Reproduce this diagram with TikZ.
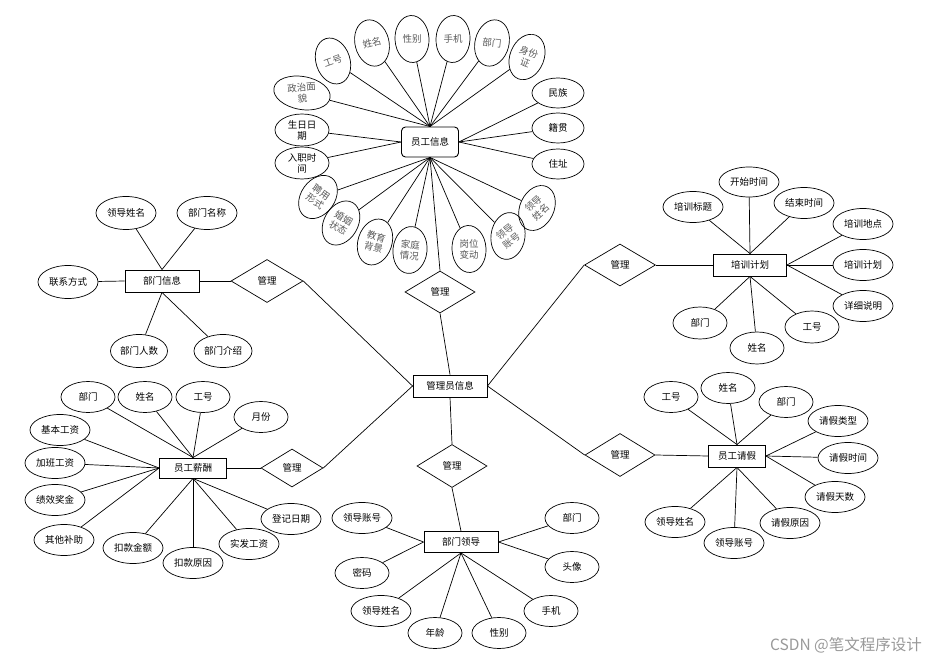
\documentclass[tikz,border=0pt]{standalone}
\usepackage{fontspec}
\newfontfamily\cjk{Noto Sans CJK SC}
\usetikzlibrary{shapes.geometric}
\newcommand\rattr[5]{%
  \node[vattr, rotate=#3] (#1) at (#2) {};
  \node[rtext, rotate=#4] (#1t) at (#1.center) {#5};}
\begin{document}
\begin{tikzpicture}[x=1pt,y=-1pt,
  every node/.style={font=\cjk\fontsize{9.5}{11}\selectfont, inner sep=0pt, align=center},
  ent/.style={draw, rectangle, minimum width=74, minimum height=22, line width=0.9pt},
  attr/.style={draw, ellipse, minimum width=54, minimum height=31, line width=0.7pt},
  attrw/.style={attr, minimum width=60},
  vattr/.style={draw, ellipse, minimum width=34, minimum height=47, line width=0.7pt},
  rtext/.style={text=black!65},
  rel/.style={draw, diamond, minimum width=70, minimum height=42, line width=0.7pt},
  conn/.style={line width=0.7pt}
]
\path[use as bounding box, fill=white] (0,0) rectangle (937,660);

% ---------- central ----------
\node[ent] (adm) at (450,386) {管理员信息};

% ---------- 员工信息 ----------
\node[ent, rounded corners=4pt, minimum width=57, minimum height=30] (yg) at (430,142) {员工信息};
\rattr{e1}{333,61}{18}{20}{工号}
\rattr{e2}{372,43}{14}{15}{姓名}
\rattr{e3}{412,39}{3}{0}{性别}
\rattr{e4}{453,39}{-3}{0}{手机}
\rattr{e5}{492,43}{-14}{-6}{部门}
\rattr{e6}{527,57}{-22}{-20}{身份\\证}
\node[attr, minimum width=57, minimum height=33, rotate=-10] (e7) at (302,93) {};
\node[rtext, rotate=5] (e7t) at (e7.center) {政治面\\貌};
\node[attr, minimum height=32] (e8) at (302,130) {生日日\\期};
\node[attr, minimum height=32] (e9) at (302,163) {入职时\\间};
\node[attr, minimum width=52, minimum height=30] (e10) at (558,93) {民族};
\node[attr, minimum width=52, minimum height=30] (e11) at (558,128) {籍贯};
\node[attr, minimum width=52, minimum height=30] (e12) at (558,164) {住址};
\rattr{e13}{318,197}{-35}{-35}{聘用\\形式}
\rattr{e14}{341,223}{-30}{-30}{婚姻\\状态}
\rattr{e15}{375,242}{-18}{-15}{教育\\背景}
\rattr{e16}{410,250}{-6}{-5}{家庭\\情况}
\rattr{e17}{469,249}{3}{0}{岗位\\变动}
\rattr{e18}{508,236}{-8}{38}{领导\\账号}
\rattr{e19}{537,208}{-25}{42}{领导\\姓名}
\foreach \n in {e1,e2,e3,e4,e5,e6,e7} \draw[conn] (yg.north) -- (\n);
\foreach \n in {e8,e9} \draw[conn] (yg.west) -- (\n);
\foreach \n in {e10,e11,e12} \draw[conn] (yg.east) -- (\n);
\foreach \n in {e13,e14,e15,e16,e17,e18,e19} \draw[conn] (yg.south) -- (\n);
\node[rel] (r1) at (440,292) {管理};
\draw[conn] (yg.south) -- (r1.north);
\draw[conn] (r1.south) -- (adm.north);

% ---------- 部门信息 ----------
\node[ent] (bm) at (162,281) {部门信息};
\node[attrw, minimum height=33] (d1) at (126,213) {领导姓名};
\node[attrw, minimum height=33] (d2) at (207,213) {部门名称};
\node[attrw, minimum height=33] (d3) at (68,282) {联系方式};
\node[attr, minimum width=57, minimum height=33] (d4) at (139,351) {部门人数};
\node[attr, minimum width=58, minimum height=33] (d5) at (223,351) {部门介绍};
\foreach \n in {d1,d2} \draw[conn] (bm.north) -- (\n);
\draw[conn] (bm.west) -- (d3);
\foreach \n in {d4,d5} \draw[conn] (bm.south) -- (\n);
\node[rel, minimum width=72, minimum height=43] (r2) at (267,281) {管理};
\draw[conn] (bm.east) -- (r2.west);
\draw[conn] (r2.east) -- (adm.west);

% ---------- 培训计划 ----------
\node[ent, minimum width=73] (px) at (750,265) {培训计划};
\node[attrw] (p1) at (693,207) {培训标题};
\node[attrw, minimum height=30] (p2) at (749,182) {开始时间};
\node[attrw] (p3) at (804,203) {结束时间};
\node[attrw] (p4) at (863,224) {培训地点};
\node[attrw] (p5) at (863,265) {培训计划};
\node[attrw] (p6) at (863,306) {详细说明};
\node[attr, minimum height=32] (p7) at (700,323) {部门};
\node[attr, minimum height=32] (p8) at (757,348) {姓名};
\node[attr, minimum height=32] (p9) at (812,327) {工号};
\foreach \n in {p1,p2,p3} \draw[conn] (px.north) -- (\n);
\foreach \n in {p4,p5,p6} \draw[conn] (px.east) -- (\n);
\foreach \n in {p7,p8,p9} \draw[conn] (px.south) -- (\n);
\node[rel, minimum width=71] (r3) at (620,265) {管理};
\draw[conn] (px.west) -- (r3.east);
\draw[conn] (r3.west) -- (adm.east);

% ---------- 员工请假 ----------
\node[ent, minimum width=57] (qj) at (737,456) {员工请假};
\node[attr] (q1) at (671,397) {工号};
\node[attr] (q2) at (728,388) {姓名};
\node[attr] (q3) at (786,402) {部门};
\node[attrw] (q4) at (838,421) {请假类型};
\node[attrw] (q5) at (848,458) {请假时间};
\node[attrw] (q6) at (835,497) {请假天数};
\node[attrw] (q7) at (790,523) {请假原因};
\node[attrw] (q8) at (734,543) {领导账号};
\node[attrw] (q9) at (675,522) {领导姓名};
\foreach \n in {q1,q2,q3} \draw[conn] (qj.north) -- (\n);
\foreach \n in {q4,q5,q6} \draw[conn] (qj.east) -- (\n);
\foreach \n in {q7,q8,q9} \draw[conn] (qj.south) -- (\n);
\node[rel, minimum height=43] (r6) at (620,455) {管理};
\draw[conn] (qj.west) -- (r6.east);
\draw[conn] (r6.west) -- (adm.east);

% ---------- 员工薪酬 ----------
\node[ent, minimum width=67, minimum height=20] (xc) at (193,468) {员工薪酬};
\node[attr] (s1) at (88,397) {部门};
\node[attr] (s2) at (145,397) {姓名};
\node[attr] (s3) at (203,397) {工号};
\node[attr] (s4) at (261,417) {月份};
\node[attrw] (s5) at (60,430) {基本工资};
\node[attrw] (s6) at (55,463) {加班工资};
\node[attrw] (s7) at (55,500) {绩效奖金};
\node[attrw] (s8) at (64,540) {其他补助};
\node[attrw] (s9) at (133,548) {扣款金额};
\node[attrw] (s10) at (193,563) {扣款原因};
\node[attrw] (s11) at (249,544) {实发工资};
\node[attrw] (s12) at (291,519) {登记日期};
\foreach \n in {s1,s2,s3,s4} \draw[conn] (xc.north) -- (\n);
\foreach \n in {s5,s6,s7,s8} \draw[conn] (xc.west) -- (\n);
\foreach \n in {s9,s10,s11,s12} \draw[conn] (xc.south) -- (\n);
\node[rel, minimum width=62, minimum height=38] (r4) at (292,468) {管理};
\draw[conn] (xc.east) -- (r4.west);
\draw[conn] (r4.east) -- (adm.west);

% ---------- 部门领导 ----------
\node[ent, minimum height=21] (ld) at (461,542) {部门领导};
\node[attrw] (l1) at (362,518) {领导账号};
\node[attr] (l2) at (362,573) {密码};
\node[attrw] (l3) at (381,611) {领导姓名};
\node[attr] (l4) at (435,633) {年龄};
\node[attr] (l5) at (499,633) {性别};
\node[attr] (l6) at (551,611) {手机};
\node[attr] (l7) at (572,567) {头像};
\node[attr] (l8) at (572,518) {部门};
\foreach \n in {l1,l2} \draw[conn] (ld.west) -- (\n);
\foreach \n in {l3,l4,l5,l6} \draw[conn] (ld.south) -- (\n);
\foreach \n in {l7,l8} \draw[conn] (ld.east) -- (\n);
\node[rel, minimum height=43] (r5) at (452,466) {管理};
\draw[conn] (ld.north) -- (r5.south);
\draw[conn] (r5.north) -- (adm.south);

% ---------- watermark ----------
\node[text=black!40, font=\cjk\fontsize{15.5}{17}\selectfont] (wm) at (846,645) {CSDN @笔文程序设计};
\end{tikzpicture}
\end{document}
